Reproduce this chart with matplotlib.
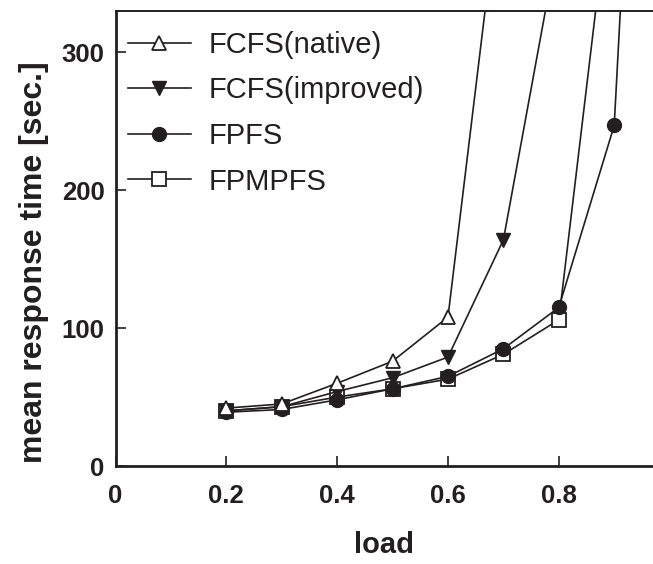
import matplotlib
matplotlib.use("Agg")
import matplotlib.pyplot as plt

plt.rcParams['font.family'] = ['Liberation Sans', 'DejaVu Sans']

# data
loads_native = [0.2, 0.3, 0.4, 0.5, 0.6, 0.7]
fcfs_native = [42, 45, 60, 76, 108, 440]
loads_improved = [0.2, 0.3, 0.4, 0.5, 0.6, 0.7, 0.8]
fcfs_improved = [40, 43, 54, 64, 79, 164, 383]
loads_fpfs = [0.2, 0.3, 0.4, 0.5, 0.6, 0.7, 0.8, 0.9, 1.0]
fpfs = [39, 41, 48, 56, 65, 85, 115, 247, 1000]
loads_fpmpfs = [0.2, 0.3, 0.4, 0.5, 0.6, 0.7, 0.8, 0.9]
fpmpfs = [40, 43, 50, 56, 63, 81, 106, 443]

xticks = [0, 0.2, 0.4, 0.6, 0.8]
xticklabels = ['0', '0.2', '0.4', '0.6', '0.8']
yticks = [0, 100, 200, 300]

K = '#231f20'
W, H = 653, 564
fig = plt.figure(figsize=(W / 100, H / 100), dpi=100)
ax_h = 466 - 11
ax_w = W - 115.5
ax = fig.add_axes([115.5 / W, 1 - 466 / H, ax_w / W, ax_h / H])

lw = 1.2
ms = 9.5
h4, = ax.plot(loads_fpmpfs, fpmpfs, color=K, lw=lw, marker='s', ms=ms, mfc='white', mec=K, mew=1.3, label='FPMPFS')
h3, = ax.plot(loads_fpfs, fpfs, color=K, lw=lw, marker='o', ms=ms + 0.5, mfc=K, mec=K, label='FPFS')
h2, = ax.plot(loads_improved, fcfs_improved, color=K, lw=lw, marker='v', ms=ms + 0.5, mfc=K, mec=K, label='FCFS(improved)')
h1, = ax.plot(loads_native, fcfs_native, color=K, lw=lw, marker='^', ms=ms + 0.5, mfc='white', mec=K, mew=1.3, label='FCFS(native)')

ax.set_xlim(0, 0.97)
ax.set_ylim(0, 330)
ax.set_xticks(xticks)
ax.set_xticklabels(xticklabels)
ax.set_yticks(yticks)

for s in ['left', 'bottom']:
    ax.spines[s].set_linewidth(2.0)
    ax.spines[s].set_color(K)
ax.spines['top'].set_linewidth(1.4)
ax.spines['top'].set_color(K)
ax.spines['right'].set_visible(False)

ax.tick_params(axis='both', direction='in', length=7, width=1.2, color=K,
               labelsize=18.5, labelcolor=K)
ax.tick_params(axis='x', pad=13)
ax.tick_params(axis='y', pad=8)
for lab in ax.get_xticklabels() + ax.get_yticklabels():
    lab.set_fontweight('bold')

ax.set_xlabel('load', fontsize=21, fontweight='bold', color=K)
ax.xaxis.set_label_coords(0.5, -(537 - 6 - 466) / ax_h)
ax.set_ylabel('mean response time [sec.]', fontsize=23, fontweight='bold', color=K)
ax.yaxis.set_label_coords((49 - 115.5) / ax_w, (466 - 262) / ax_h)

leg = ax.legend(handles=[h1, h2, h3, h4], loc='upper left',
                bbox_to_anchor=(128 / W, 1 - 31 / H), bbox_transform=fig.transFigure,
                frameon=False, fontsize=21, handlelength=2.15, handletextpad=0.62,
                labelspacing=0.6, borderpad=0, borderaxespad=0)
for t in leg.get_texts():
    t.set_color(K)

fig.savefig('out.png', dpi=100)
